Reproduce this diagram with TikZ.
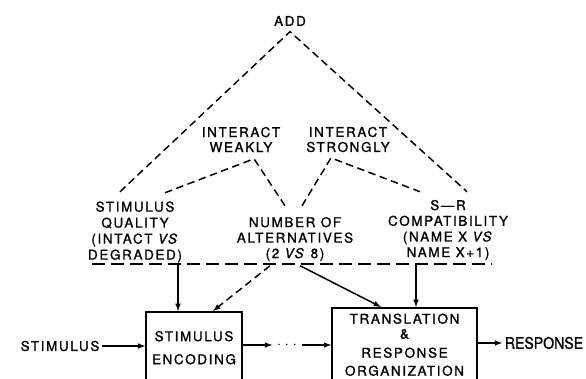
\documentclass[tikz,border=0pt]{standalone}
\usepackage{fontspec}
\setmainfont{TeX Gyre Heros}[LetterSpace=12, FakeBold=1.2]
\newfontfamily\plainsans{TeX Gyre Heros}[FakeStretch=0.88, FakeBold=1]
\usetikzlibrary{arrows,positioning}

\tikzstyle{arrow} = [draw, -latex]
\tikzstyle{link} = [draw, dash pattern=on 7.5pt off 4.5pt]
\tikzstyle{bar} = [draw, dash pattern=on 13pt off 6pt]
\tikzstyle{factor} = [align=center, inner sep=2pt]
\tikzstyle{stage} = [draw, align=center, anchor=north, inner sep=2pt]
\definecolor{black}{RGB}{0,0,0}
\definecolor{white}{RGB}{255,255,255}

\begin{document}
\begin{tikzpicture}[x=1pt, y=-1pt, line width=1.5pt,
    every node/.style={font=\fontsize{13.5}{16}\selectfont}]
    \useasboundingbox[fill=white] (0,0) rectangle (586,379);

    % factors
    \node [factor] (add) at (290,21) {ADD};
    \node [factor] (weak) at (241,139.5) {INTERACT\\[-1pt]WEAKLY};
    \node [factor] (strong) at (348,139.5) {INTERACT\\[-1pt]STRONGLY};
    \node [factor] (quality) at (135,232) {STIMULUS\\QUALITY\\(INTACT \textit{VS}\\DEGRADED)};
    \node [factor] (number) at (295,239) {NUMBER OF\\[-0.5pt]ALTERNATIVES\\[-0.5pt](2 \textit{VS} 8)};
    \node [factor] (compat) at (448,230) {S\textemdash R\\[-0.3pt]COMPATIBILITY\\[-0.3pt](NAME X \textit{VS}\\[-0.3pt]NAME X+1)};

    \coordinate (addtip) at ([yshift=-3pt]add.south);
    \coordinate (weaktip) at ([shift={(13pt,-4pt)}]weak.south);
    \coordinate (strongtip) at ([shift={(-17pt,-3pt)}]strong.south);

    % how the factors combine
    \draw [link] ([shift={(-15pt,7pt)}]quality.north) -- (addtip) -- ([shift={(19pt,5.5pt)}]compat.north);
    \draw [link] ([shift={(30pt,6pt)}]quality.north) -- (weaktip) -- ([shift={(-10pt,8.5pt)}]number.north);
    \draw [link] ([shift={(7pt,8.5pt)}]number.north) -- (strongtip) -- ([shift={(-28pt,5.5pt)}]compat.north);

    % stages
    \node [stage, minimum width=96pt, minimum height=72pt] (encode) at (194,311) {STIMULUS\\[7pt]ENCODING};
    \node [stage, minimum width=145pt, minimum height=74pt] (translate) at (404.5,307)
        {TRANSLATION\\[-1pt]\&\\[3pt]RESPONSE\\[2pt]ORGANIZATION};

    % underline of the factors
    \coordinate (barleft) at (92,264);
    \coordinate (barright) at (492,264);
    \draw [bar] (barleft) -- (barright);

    % effects on the stages
    \coordinate (qualin) at ([xshift=-16pt]encode.north);
    \coordinate (compatin) at ([xshift=11.5pt]translate.north);
    \draw [arrow] (qualin |- barleft) -- (qualin);
    \draw [arrow, link] ([shift={(-25pt,-2pt)}]number.south) -- ([xshift=19pt]encode.north);
    \draw [arrow] ([shift={(5pt,-2pt)}]number.south) -- ([xshift=-23.5pt]translate.north);
    \draw [arrow] (compatin |- barleft) -- (compatin);

    % input and output
    \node [factor] (stimulus) at (60,346) {STIMULUS};
    \node [factor, inner sep=4pt] (dots) at (287,345) {$\cdot$\hspace{4pt}$\cdot$\hspace{4pt}$\cdot$};
    \node [factor, font=\plainsans\fontsize{16}{18}\selectfont] (response) at (544,343) {RESPONSE};

    \draw [arrow] (stimulus.east) -- (stimulus.east -| encode.west);
    \draw [arrow] (encode.east |- dots) -- (dots.west);
    \draw [arrow] (dots.east) -- (dots -| translate.west);
    \draw [arrow] (translate.east |- response) -- (response.west);
\end{tikzpicture}
\end{document}
